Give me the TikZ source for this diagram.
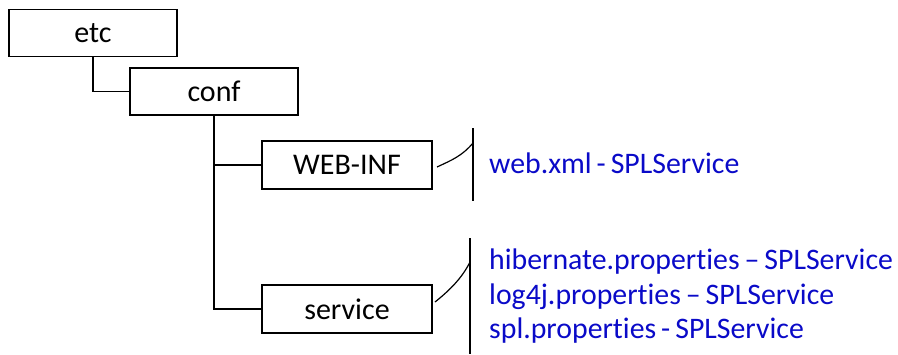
\documentclass[tikz,border=0pt]{standalone}
\usepackage{fontspec}
\setmainfont{Carlito}[Ligatures={TeX,NoCommon}]
\definecolor{fileblue}{RGB}{10,10,200}
\begin{document}
\begin{tikzpicture}[x=1pt,y=-1pt,
  dirbox/.style={draw=black,line width=1.2pt,fill=white,minimum width=168pt,minimum height=47pt,inner sep=0pt,font=\fontsize{30}{34}\selectfont},
  conn/.style={draw=black,line width=1.2pt},
  brk/.style={draw=black,line width=1.8pt},
  files/.style={text=fileblue,anchor=west,inner sep=0pt,font=\fontsize{29.8}{34}\selectfont}]
\useasboundingbox (0,0) rectangle (898,354);
\node[dirbox] (etc) at (93,33) {etc};
\node[dirbox] (conf) at (214,91.5) {conf};
\node[dirbox,minimum width=170pt,minimum height=48pt] (web) at (347,165) {WEB-INF};
\node[dirbox,minimum width=170pt,minimum height=48pt] (svc) at (347,309) {service};
\draw[conn] (etc.south) |- (conf.west);
\draw[conn] (conf.south) |- (svc.west);
\draw[conn] (conf.south |- web.west) -- (web.west);
\coordinate (b1t) at (473,128);
\coordinate (b1b) at (473,201);
\coordinate (b2t) at (470,238);
\coordinate (b2b) at (470,354);
\draw[brk] (b1t) -- (b1b);
\draw[brk] (b2t) -- (b2b);
\coordinate (c1s) at (437,167);
\coordinate (c1e) at (473,143);
\coordinate (c2s) at (435,302);
\coordinate (c2e) at (470,262);
\draw[conn] (c1s) .. controls (452,160) and (462,156) .. (c1e);
\draw[conn] (c2s) .. controls (450,290) and (462,278) .. (c2e);
\node[files] (f1) at (489,163) {web.xml\,-\,SPLService};
\node[files] (f2) at (489,262) {hibernate.properties\,--\,SPLService};
\node[files] (f3) at (489,297) {log4j.properties\,--\,SPLService};
\node[files] (f4) at (489,331) {spl.properties\,-\,SPLService};
\end{tikzpicture}
\end{document}
